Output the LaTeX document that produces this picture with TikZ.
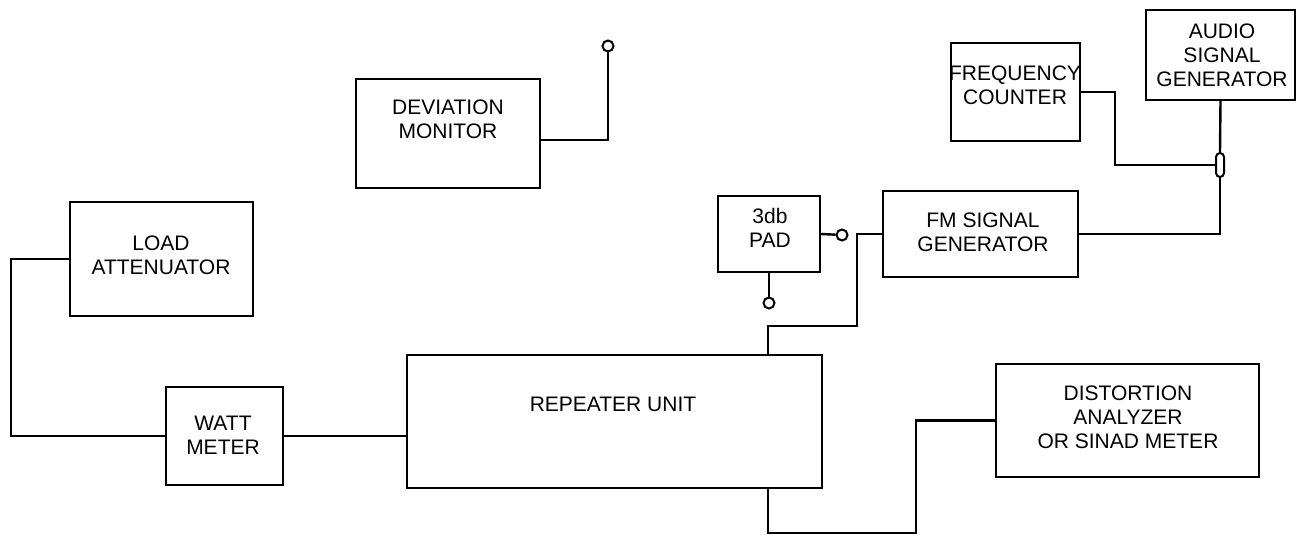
\documentclass[tikz,border=0pt]{standalone}
\usepackage{fontspec}
\setmainfont{Liberation Sans}
\usetikzlibrary{calc}

\begin{document}
\begin{tikzpicture}[
x=0.5pt, y=-0.5pt,
unit/.style={
rectangle,
draw,
line width=1.2pt,
inner sep=0pt
},
txt/.style={
align=center,
inner sep=0pt,
font=\fontsize{10.5}{12}\selectfont
},
term/.style={
circle,
draw,
line width=1pt,
inner sep=0pt,
minimum size=5.5pt,
fill=white
},
plug/.style={
rectangle,
rounded corners=2pt,
draw,
line width=1pt,
minimum width=4pt,
minimum height=12pt,
inner sep=0pt
},
wire/.style={line width=1.2pt}
]

\useasboundingbox (0,0) rectangle (1297,535);

% instruments
\node[unit, minimum width=91.5pt, minimum height=57pt] (load) at (161.5,259) {};
\node[txt] (loadtxt) at (161,255.5) {LOAD\\ATTENUATOR};

\node[unit, minimum width=58.5pt, minimum height=49pt] (watt) at (224.5,436) {};
\node[txt] (watttxt) at (223,435) {WATT\\METER};

\node[unit, minimum width=207.5pt, minimum height=66.5pt] (rep) at (614.5,421.5) {};
\node[txt] (reptxt) at (613,404) {REPEATER UNIT};

\node[unit, minimum width=92pt, minimum height=54.5pt] (dev) at (448,133.5) {};
\node[txt] (devtxt) at (448,119.5) {DEVIATION\\MONITOR};

\node[unit, minimum width=51pt, minimum height=38pt] (pad) at (769,234) {};
\node[txt] (padtxt) at (770,227.5) {3db\\PAD};

\node[unit, minimum width=97.5pt, minimum height=43pt] (fm) at (980.5,234) {};
\node[txt] (fmtxt) at (983,232) {FM SIGNAL\\GENERATOR};

\node[unit, minimum width=64.5pt, minimum height=49pt] (freq) at (1015.5,92) {};
\node[txt] (freqtxt) at (1015,85.5) {FREQUENCY\\COUNTER};

\node[unit, minimum width=74.5pt, minimum height=45pt] (audio) at (1220.5,55) {};
\node[txt] (audiotxt) at (1222,55.5) {AUDIO\\SIGNAL\\GENERATOR};

\node[unit, minimum width=131.5pt, minimum height=56.5pt] (dist) at (1127.5,420.5) {};
\node[txt] (disttxt) at (1128,417) {DISTORTION\\ANALYZER\\OR SINAD METER};

% terminals
\node[term] (ant) at (608,46) {};
\node[term] (padout) at (842,235) {};
\node[term] (padgnd) at (769,303) {};
\node[plug] (jack) at (1220,165) {};

% wiring
\draw[wire] (load.west) -- ++(-58,0) |- (watt.west);
\draw[wire] (watt.east) -- (watt.east -| rep.west);
\draw[wire] (fm.west) -| (857,326) -| ($(rep.north)+(153.5,0)$);
\draw[wire] ($(rep.south)+(153.5,0)$) |- (916,533) |- (dist.west);
\draw[wire] (pad.east) -- (padout);
\draw[wire] (pad.south) -- (padgnd);
\draw[wire] ($(dev.east)+(0,6.5)$) -| (ant);
\draw[wire] (fm.east) -| (jack.south);
\draw[wire] (audio.south) -- (jack.north);
\draw[wire] (freq.east) -| ($(jack.west)+(-100,0)$) -- (jack.west);

\end{tikzpicture}
\end{document}
